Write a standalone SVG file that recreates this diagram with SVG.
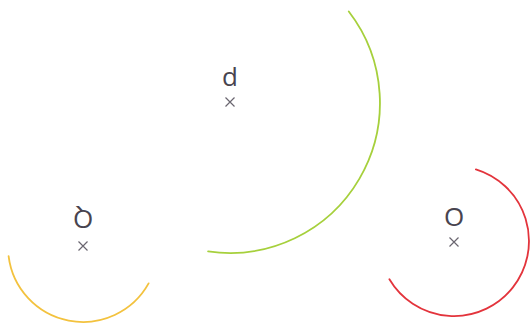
<svg xmlns="http://www.w3.org/2000/svg" width="532" height="325" viewBox="0 0 532 325">
<style>
.lbl{font-family:"Open Sans","Liberation Sans",sans-serif;font-size:26px;fill:#48444f;text-anchor:middle}
.x{stroke:#6a6670;stroke-width:1.2;fill:none}
.arc{fill:none;stroke-width:1.8;stroke-linecap:round}
</style>
<rect width="532" height="325" fill="#ffffff"/>
<g id="arcs">
<path class="arc" stroke="#a6d03c" d="M348.8 11.5A150 150 0 0 1 208.1 251.4"/>
<path class="arc" stroke="#f3c23e" d="M148.6 283.4A75 75 0 0 1 8.6 256.1"/>
<path class="arc" stroke="#e3343c" d="M475.9 169.3A75 75 0 1 1 389.4 279.2"/>
</g>
<g id="node-p">
<text class="lbl" x="230" y="86">d</text>
<path class="x" d="M225.5 97.5L234.5 106.5M234.5 97.5L225.5 106.5"/>
</g>
<g id="node-q">
<text class="lbl" transform="rotate(180 83 219)" x="83" y="228.5">Q</text>
<path class="x" d="M78.5 241.5L87.5 250.5M87.5 241.5L78.5 250.5"/>
</g>
<g id="node-o">
<text class="lbl" x="454" y="226">O</text>
<path class="x" d="M449.5 237.5L458.5 246.5M458.5 237.5L449.5 246.5"/>
</g>
</svg>
